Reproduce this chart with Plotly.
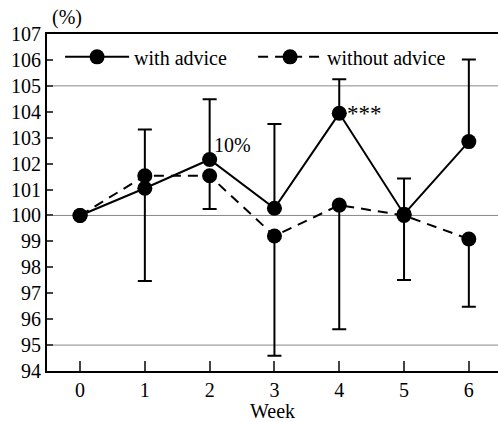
import plotly.graph_objects as go

weeks = [0, 1, 2, 3, 4, 5, 6]
with_advice = [100.0, 101.05, 102.16, 100.28, 103.94, 100.05, 102.85]
with_advice_err_up = [0, 2.27, 2.32, 3.25, 1.31, 1.38, 3.17]
without_advice = [100.0, 101.53, 101.53, 99.21, 100.4, 100.0, 99.09]
without_advice_err_down = [0, 4.06, 1.28, 4.62, 4.79, 2.49, 2.61]
y_ticks = list(range(94, 108))
grid_vals = [95, 100, 105]

FONT = "Liberation Serif"

fig = go.Figure()
for g in grid_vals:
    fig.add_hline(y=g, line=dict(color="#888888", width=1), layer="below")

fig.add_trace(go.Scatter(
    x=weeks, y=without_advice, name="without advice", mode="lines+markers",
    line=dict(color="black", width=2, dash="10px,7px"),
    marker=dict(color="black", size=15),
    error_y=dict(type="data", symmetric=False, array=[0]*7, arrayminus=without_advice_err_down,
                 color="black", thickness=2, width=7),
))
fig.add_trace(go.Scatter(
    x=weeks, y=with_advice, name="with advice", mode="lines+markers",
    line=dict(color="black", width=2),
    marker=dict(color="black", size=15),
    error_y=dict(type="data", symmetric=False, array=with_advice_err_up, arrayminus=[0]*7,
                 color="black", thickness=2, width=7),
))

fig.add_annotation(x=2, y=102.72, text="10%", showarrow=False, xanchor="left", xshift=2,
                   font=dict(family=FONT, size=20, color="black"))
fig.add_annotation(x=4, y=103.95, text="***", showarrow=False, xanchor="left", xshift=6,
                   font=dict(family=FONT, size=23, color="black"))
fig.add_annotation(x=0.007, y=1.05, xref="paper", yref="paper", text="(%)", showarrow=False,
                   xanchor="left", yanchor="middle",
                   font=dict(family=FONT, size=20, color="black"))

fig.update_layout(
    width=498, height=422,
    margin=dict(l=47, r=0, t=34, b=51),
    paper_bgcolor="white", plot_bgcolor="white",
    font=dict(family=FONT, size=20, color="black"),
    showlegend=True,
    legend=dict(orientation="h", x=0.029, y=0.99, xanchor="left", yanchor="top",
                traceorder="reversed", bgcolor="rgba(0,0,0,0)", itemwidth=64,
                entrywidth=114, entrywidthmode="pixels",
                font=dict(family=FONT, size=20, color="black")),
    xaxis=dict(range=[-0.51, 6.45], tickvals=weeks, ticks="inside", ticklen=10, tickwidth=2,
               showline=True, linecolor="black", linewidth=2, mirror=True,
               showgrid=False, zeroline=False,
               title=dict(text="Week", font=dict(family=FONT, size=20), standoff=2)),
    yaxis=dict(range=[94, 107], tickvals=y_ticks, ticks="inside", ticklen=6, tickwidth=2,
               showline=True, linecolor="black", linewidth=2, mirror=False,
               showgrid=False, zeroline=False),
)
fig.write_html("out.html")
